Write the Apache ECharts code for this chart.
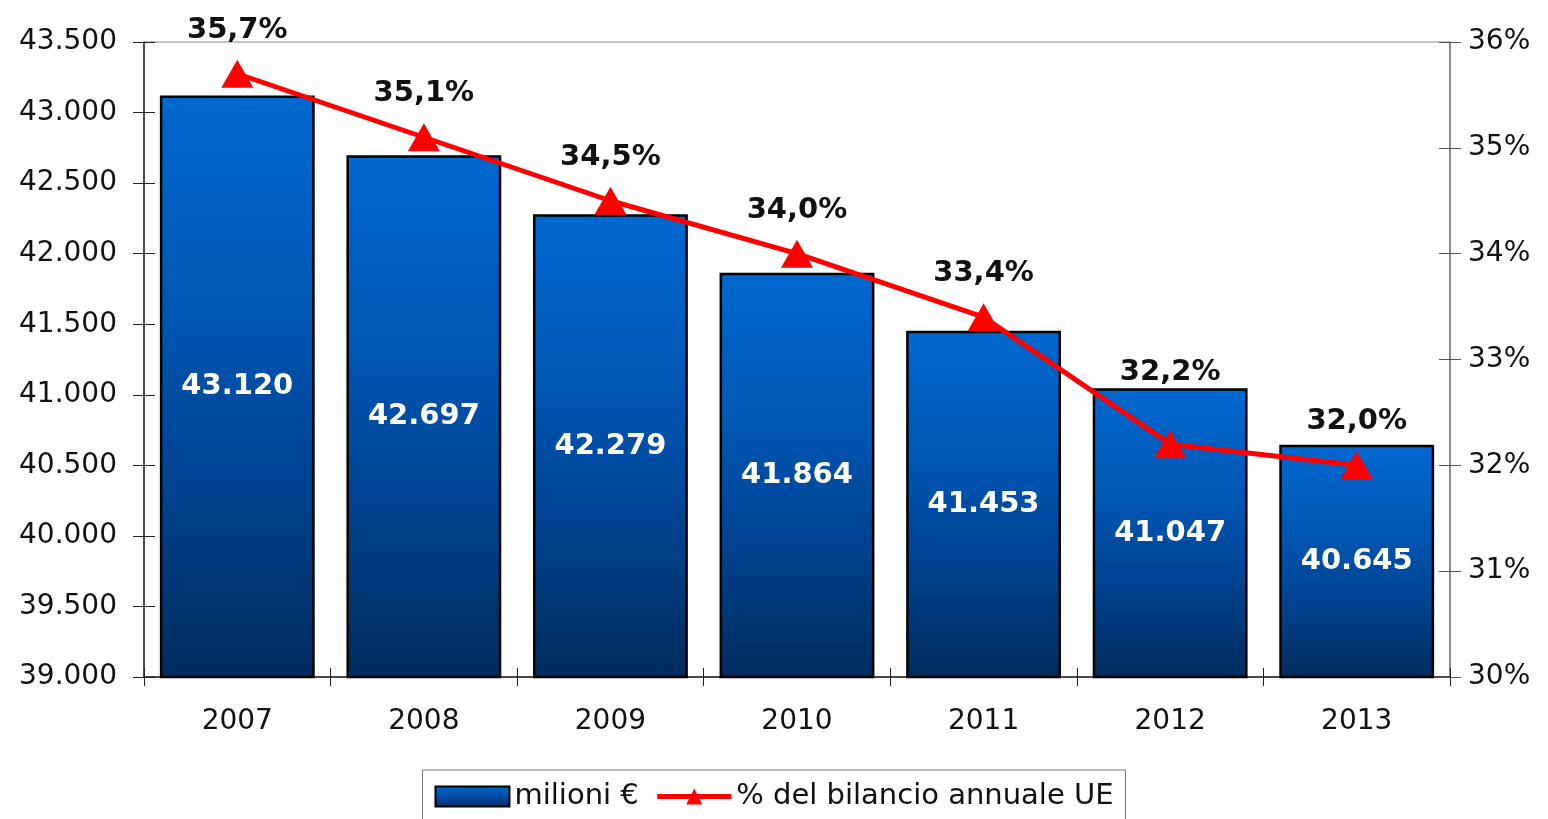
<!DOCTYPE html>
<html><head><meta charset="utf-8">
<script src="https://cdn.jsdelivr.net/npm/echarts@6/dist/echarts.min.js"></script>
<style>html,body{margin:0;padding:0;background:#fff}#c{width:1548px;height:819px}</style>
</head><body><div id="c"></div>
<script>
const years = ['2007','2008','2009','2010','2011','2012','2013'];
const milioni = [43120, 42697, 42279, 41864, 41453, 41047, 40645];
const percent = [35.7, 35.1, 34.5, 34.0, 33.4, 32.2, 32.0];
const leftTicks = {min: 39000, max: 43500, interval: 500};
const rightTicks = {min: 30, max: 36, interval: 1};

const fmtThousands = v => String(Math.round(v)).replace(/\B(?=(\d{3})+(?!\d))/g, '.');
const fmtPct = v => v.toFixed(1).replace('.', ',') + '%';

const barGrad = new echarts.graphic.LinearGradient(0,0,0,1,[
  {offset:0,color:'#0068d0'},{offset:0.35,color:'#0058b4'},{offset:0.6,color:'#00479a'},{offset:1,color:'#002c5c'}]);

const axisFont = {fontFamily:'DejaVu Sans', fontSize:28, color:'#111'};
const chart = echarts.init(document.getElementById('c'));
chart.setOption({
  animation:false,
  grid:{left:144,right:98,top:42,bottom:142,show:true,borderColor:'#888',borderWidth:1,backgroundColor:'transparent'},
  legend:{
    bottom:-6, left:'center',
    data:[{name:'milioni €',icon:'rect'},{name:'% del bilancio annuale UE',lineStyle:{width:5}}],
    itemWidth:74,itemHeight:20,itemGap:16,
    padding:[12,12,14,12],
    borderColor:'#777',borderWidth:1,
    textStyle:{fontFamily:'DejaVu Sans',fontSize:29,color:'#111'}
  },
  xAxis:[{
    type:'category',data:years,
    axisLine:{lineStyle:{color:'#222',width:1.5}},
    axisTick:{show:true,length:9,lineStyle:{color:'#222'}},
    axisLabel:Object.assign({margin:31},axisFont)
  },{
    type:'category',data:years,position:'bottom',
    axisLine:{show:false},axisLabel:{show:false},
    axisTick:{show:true,inside:true,length:9,lineStyle:{color:'#222'}}
  }],
  yAxis:[{
    type:'value',min:leftTicks.min,max:leftTicks.max,interval:leftTicks.interval,position:'left',
    axisLine:{show:true,lineStyle:{color:'#222',width:1.5}},
    axisTick:{show:true,length:11,lineStyle:{color:'#222'}},
    splitLine:{show:false},
    axisLabel:Object.assign({margin:27,formatter:fmtThousands},axisFont)
  },{
    type:'value',min:rightTicks.min,max:rightTicks.max,interval:rightTicks.interval,position:'right',
    axisLine:{show:true,lineStyle:{color:'#777',width:1.5}},
    axisTick:{show:true,length:11,lineStyle:{color:'#555'}},
    splitLine:{show:false},
    axisLabel:Object.assign({margin:18,formatter:v=>v+'%'},axisFont)
  },{
    type:'value',min:leftTicks.min,max:leftTicks.max,interval:leftTicks.interval,position:'left',
    axisLine:{show:false},axisLabel:{show:false},splitLine:{show:false},
    axisTick:{show:true,inside:true,length:11,lineStyle:{color:'#222'}}
  },{
    type:'value',min:rightTicks.min,max:rightTicks.max,interval:rightTicks.interval,position:'right',
    axisLine:{show:false},axisLabel:{show:false},splitLine:{show:false},
    axisTick:{show:true,inside:true,length:11,lineStyle:{color:'#555'}}
  }],
  series:[{
    name:'milioni €',type:'bar',data:milioni,yAxisIndex:0,
    barCategoryGap:'17%',
    itemStyle:{color:barGrad,borderColor:'#000',borderWidth:2.5},
    label:{show:true,position:'inside',formatter:p=>fmtThousands(p.value),
      fontFamily:'DejaVu Sans',fontWeight:'bold',fontSize:29,color:'#fff'}
  },{
    name:'% del bilancio annuale UE',type:'line',yAxisIndex:1,
    data:percent.map((v,i)=>i===5?{value:v,label:{offset:[0,-28]}}:v),
    lineStyle:{color:'#ff0000',width:5},
    itemStyle:{color:'#ff0000'},
    symbol:'triangle',symbolSize:[32,28],
    label:{show:true,position:'top',distance:15,formatter:p=>fmtPct(p.value),
      fontFamily:'DejaVu Sans',fontWeight:'bold',fontSize:29,color:'#111'},
    z:5
  }]
});
</script></body></html>
